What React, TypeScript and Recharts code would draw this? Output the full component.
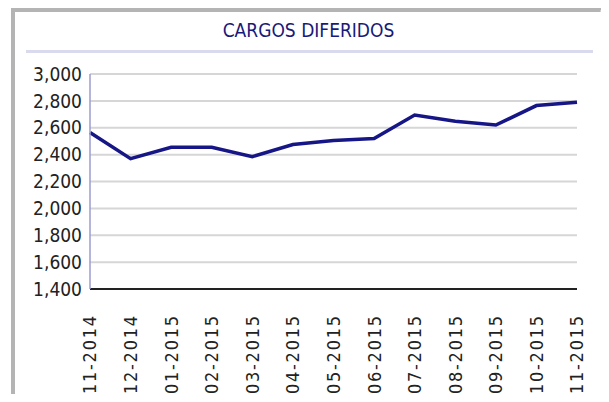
import { LineChart, Line, XAxis, YAxis, CartesianGrid } from 'recharts'

const months = [
  '11-2014', '12-2014', '01-2015', '02-2015', '03-2015', '04-2015', '05-2015',
  '06-2015', '07-2015', '08-2015', '09-2015', '10-2015', '11-2015',
]
const cargos = [2565, 2370, 2455, 2455, 2385, 2475, 2505, 2520, 2695, 2648, 2620, 2765, 2790]
const yTicks = [1400, 1600, 1800, 2000, 2200, 2400, 2600, 2800, 3000]

const data = months.map((m, i) => ({ mes: m, valor: cargos[i] }))

const FONT = '"DejaVu Sans Condensed", "DejaVu Sans", sans-serif'

function MonthTick({ x, y, payload }: any) {
  return (
    <text
      transform={`translate(${x},${y + 19}) rotate(-90)`}
      textAnchor="end"
      dy="0.36em"
      fontFamily={FONT}
      fontSize={18}
      textLength={78}
      lengthAdjust="spacing"
      fill="#222"
    >
      {payload.value}
    </text>
  )
}

export default function App() {
  return (
    <div style={{ position: 'relative', width: 609, height: 402, margin: -8, background: '#fff', overflow: 'hidden' }}>
      {/* marco */}
      <div style={{ position: 'absolute', left: 12, top: 0, width: 597, height: 1, background: '#c4c4c4' }} />
      <div
        style={{
          position: 'absolute', left: 11, top: 7, width: 589, height: 400,
          borderLeft: '4px solid #b4b4b4', borderTop: '5px solid #b4b4b4',
        }}
      />
      <div style={{ position: 'absolute', left: 600, top: 10, width: 9, height: 2, background: '#cfcfcf' }} />
      <div style={{ position: 'absolute', left: 26, top: 50, width: 567, height: 3, background: '#dadaee' }} />
      <div
        style={{
          position: 'absolute', left: 0, top: 19, width: 617, textAlign: 'center',
          fontFamily: FONT, fontSize: 19, color: '#1a1a78',
        }}
      >
        CARGOS DIFERIDOS
      </div>

      <div style={{ position: 'absolute', left: 0, top: 0 }}>
        <LineChart width={609} height={402} data={data} margin={{ top: 74, right: 32, bottom: 0, left: 0 }}>
          <CartesianGrid vertical={false} stroke="#d6d6d6" strokeWidth={2} />
          <XAxis
            dataKey="mes"
            height={113}
            interval={0}
            tick={<MonthTick />}
            tickLine={false}
            axisLine={{ stroke: '#222', strokeWidth: 2 }}
          />
          <YAxis
            width={90}
            domain={[1400, 3000]}
            ticks={yTicks}
            interval={0}
            tickFormatter={(v: number) => v.toLocaleString('en-US')}
            tickLine={false}
            tickSize={0}
            tickMargin={8}
            axisLine={{ stroke: '#9c9cd0', strokeWidth: 1.5 }}
            tick={{ fontFamily: FONT, fontSize: 19, fill: '#222' }}
          />
          <Line
            type="linear"
            dataKey="valor"
            stroke="#161686"
            strokeWidth={3.5}
            dot={false}
            isAnimationActive={false}
          />
        </LineChart>
      </div>
    </div>
  )
}
